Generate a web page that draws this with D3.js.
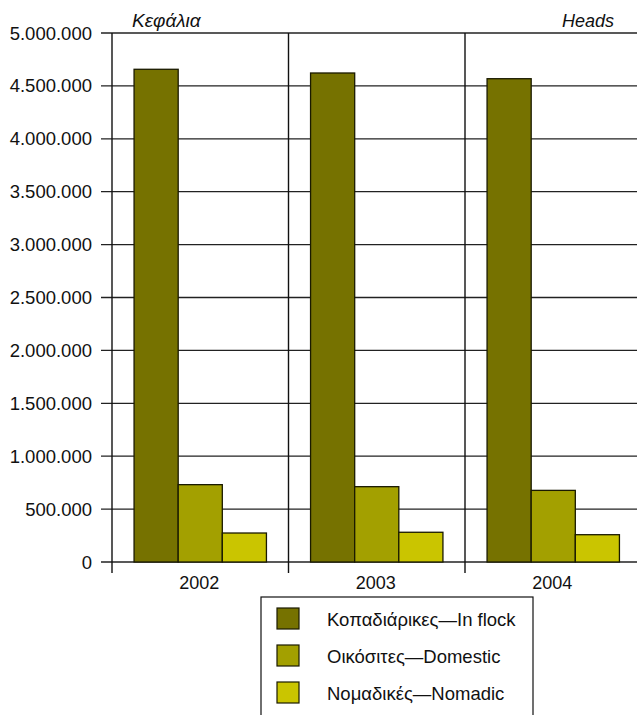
<!DOCTYPE html>
<html>
<head>
<meta charset="utf-8">
<script src="https://cdn.jsdelivr.net/npm/d3@7"></script>
<style>
  body { margin: 0; background: #fff; }
  svg text { font-family: "Liberation Sans", Arial, sans-serif; fill: #111; }
</style>
</head>
<body>
<div id="chart"></div>
<script>
const years = ["2002", "2003", "2004"];
const seriesNames = ["Κοπαδιάρικες—In flock", "Οικόσιτες—Domestic", "Νομαδικές—Nomadic"];
const inFlock = [4657000, 4622000, 4568000];
const domestic = [731000, 712000, 677000];
const nomadic = [274000, 281000, 258000];
const yTicks = [0, 500000, 1000000, 1500000, 2000000, 2500000, 3000000, 3500000, 4000000, 4500000, 5000000];
const colors = ["#767200", "#a3a000", "#cac500"];

const width = 637, height = 715;
const svg = d3.select("#chart").append("svg")
  .attr("width", width)
  .attr("height", height);

const plotLeft = 112, plotTop = 33, plotBottom = 562;
const x = d3.scaleBand().domain(years).range([plotLeft, 641.5]);
const y = d3.scaleLinear().domain([0, 5000000]).range([plotBottom, plotTop]);
const inner = d3.scaleBand().domain([0, 1, 2])
  .range([x.bandwidth() / 8, x.bandwidth() * 7 / 8]);

const fmt = v => d3.format(",")(v).replace(/,/g, ".");

// horizontal grid lines with ticks
svg.append("g").selectAll("line").data(yTicks).join("line")
  .attr("x1", 101).attr("x2", width)
  .attr("y1", d => y(d)).attr("y2", d => y(d))
  .attr("stroke", "#222").attr("stroke-width", 1.3);

svg.append("g").selectAll("text").data(yTicks).join("text")
  .attr("x", 92).attr("y", d => y(d))
  .attr("text-anchor", "end").attr("dominant-baseline", "central")
  .attr("font-size", 18.5)
  .text(d => fmt(d));

// vertical separators
const seps = [plotLeft, x("2003"), x("2004")];
svg.append("g").selectAll("line").data(seps).join("line")
  .attr("x1", d => d).attr("x2", d => d)
  .attr("y1", plotTop).attr("y2", 573)
  .attr("stroke", "#111").attr("stroke-width", 1.4);

// bars
const series = [inFlock, domestic, nomadic];
series.forEach((vals, s) => {
  svg.append("g").selectAll("rect").data(years).join("rect")
    .attr("x", (d, i) => x(d) + inner(s))
    .attr("y", (d, i) => y(vals[i]))
    .attr("width", inner.bandwidth())
    .attr("height", (d, i) => plotBottom - y(vals[i]))
    .attr("fill", colors[s])
    .attr("stroke", "#1a1a00").attr("stroke-width", 1.3);
});

// category labels
svg.append("g").selectAll("text").data(years).join("text")
  .attr("x", d => x(d) + x.bandwidth() * 0.5 - 1)
  .attr("y", 589)
  .attr("text-anchor", "middle")
  .attr("font-size", 18)
  .text(d => d);

// unit labels
svg.append("text").attr("x", 132).attr("y", 27)
  .attr("font-size", 19).attr("font-style", "italic").text("Κεφάλια");
svg.append("text").attr("x", 614).attr("y", 27)
  .attr("text-anchor", "end")
  .attr("font-size", 18).attr("font-style", "italic").text("Heads");

// legend
svg.append("rect")
  .attr("x", 261).attr("y", 597).attr("width", 272).attr("height", 130)
  .attr("fill", "none").attr("stroke", "#111").attr("stroke-width", 1.2);

const lg = svg.append("g").selectAll("g").data(seriesNames).join("g")
  .attr("transform", (d, i) => `translate(277,${608 + i * 37})`);
lg.append("rect")
  .attr("width", 22).attr("height", 21)
  .attr("fill", (d, i) => colors[i])
  .attr("stroke", "#1a1a00").attr("stroke-width", 1.2);
lg.append("text")
  .attr("x", 50).attr("y", 11)
  .attr("dominant-baseline", "central")
  .attr("font-size", 18.5)
  .text(d => d);
</script>
</body>
</html>
